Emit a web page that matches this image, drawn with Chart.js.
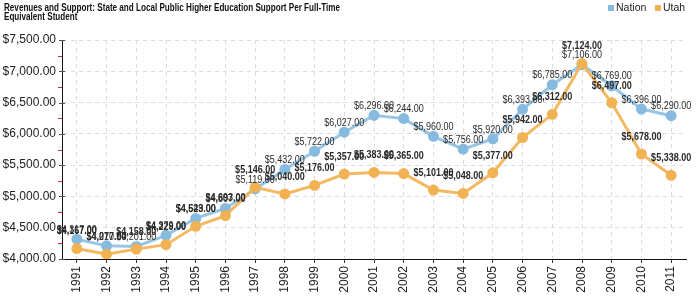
<!DOCTYPE html>
<html>
<head>
<meta charset="utf-8">
<script src="https://cdn.jsdelivr.net/npm/chart.js@4.4.0/dist/chart.umd.min.js"></script>
<style>
html,body{margin:0;padding:0;background:#fff;}
#wrap{width:700px;height:300px;position:relative;}
</style>
</head>
<body>
<div id="wrap"><canvas id="c" width="700" height="300"></canvas></div>
<script>
const titleLines = ["Revenues and Support: State and Local Public Higher Education Support Per Full-Time", "Equivalent Student"];
const years = ["1991","1992","1993","1994","1995","1996","1997","1998","1999","2000","2001","2002","2003","2004","2005","2006","2007","2008","2009","2010","2011"];
const nation = [4317,4210,4201,4379,4649,4807,5119,5432,5722,6027,6296,6244,5960,5756,5920,6393,6785,7106,6769,6396,6290];
const utah = [4167,4077,4158,4229,4523,4693,5146,5040,5176,5357,5383,5365,5101,5048,5377,5942,6312,7124,6497,5678,5338];
const seriesNames = ["Nation","Utah"];
const yMin = 4000, yMax = 7500, yStep = 500;

const fmt = v => "$" + v.toLocaleString("en-US", {minimumFractionDigits:2, maximumFractionDigits:2});

const NATION_LINE = "rgba(140,192,226,0.9)";
const NATION_PT = "#86bbdf";
const UTAH_LINE = "rgba(242,180,88,0.95)";
const UTAH_PT = "#f1b254";

function squishText(ctx, text, x, y, sx) {
  ctx.save();
  ctx.translate(x, y);
  ctx.scale(sx, 1);
  ctx.fillText(text, 0, 0);
  ctx.restore();
}

const decor = {
  id: "decor",
  afterDraw(chart) {
    const ctx = chart.ctx;
    const ys = chart.scales.y, xs = chart.scales.x;
    const ca = chart.chartArea;
    ctx.save();
    // y axis minor red ticks & major ticks
    for (let v = yMin; v <= yMax; v += yStep / 2) {
      const py = Math.round(ys.getPixelForValue(v)) + 0.5;
      ctx.beginPath();
      if ((v - yMin) % yStep === 0) {
        ctx.strokeStyle = "#555";
        ctx.moveTo(ca.left - 3, py); ctx.lineTo(ca.left + 3, py);
      } else {
        ctx.strokeStyle = "#e03030";
        ctx.moveTo(ca.left - 4, py); ctx.lineTo(ca.left, py);
      }
      ctx.lineWidth = 1;
      ctx.stroke();
    }
    // title
    ctx.fillStyle = "#111";
    ctx.font = "bold 11px 'Liberation Sans', Arial, sans-serif";
    ctx.textBaseline = "middle";
    ctx.textAlign = "left";
    const w1 = ctx.measureText(titleLines[0]).width;
    const sx = 336 / w1;
    squishText(ctx, titleLines[0], 4, 8, sx);
    squishText(ctx, titleLines[1], 4, 17, sx);
    // legend
    ctx.font = "10.5px 'Liberation Sans', Arial, sans-serif";
    const items = [[seriesNames[0], NATION_PT, 608], [seriesNames[1], UTAH_PT, 655]];
    items.forEach(([name, col, x]) => {
      ctx.fillStyle = col;
      ctx.fillRect(x, 5, 6, 6);
      ctx.fillStyle = "#222";
      ctx.fillText(name, x + 8, 8.5);
    });
    // data labels
    const drawLabels = (dsIndex, data, bold, off) => {
      const meta = chart.getDatasetMeta(dsIndex);
      ctx.font = (bold ? "bold " : "") + "10px 'Liberation Sans', Arial, sans-serif";
      ctx.fillStyle = "#2a2a2a";
      ctx.textAlign = "center";
      ctx.textBaseline = "middle";
      meta.data.forEach((pt, i) => {
        squishText(ctx, fmt(data[i]), pt.x, pt.y - off, 0.9);
      });
    };
    drawLabels(0, nation, false, 9);
    drawLabels(1, utah, true, 17);
    ctx.restore();
  }
};

new Chart(document.getElementById("c"), {
  type: "line",
  data: {
    labels: years,
    datasets: [
      {label: seriesNames[0], data: nation, borderColor: NATION_LINE, backgroundColor: NATION_PT,
       pointBackgroundColor: NATION_PT, pointBorderColor: NATION_PT, borderWidth: 3, pointRadius: 4, tension: 0, order: 2},
      {label: seriesNames[1], data: utah, borderColor: UTAH_LINE, backgroundColor: UTAH_PT,
       pointBackgroundColor: UTAH_PT, pointBorderColor: UTAH_PT, borderWidth: 3, pointRadius: 4, tension: 0, order: 1}
    ]
  },
  options: {
    responsive: false,
    animation: false,
    events: [],
    layout: {padding: {top: 40, right: 14, left: 0, bottom: 0}},
    plugins: {legend: {display: false}, title: {display: false}, tooltip: {enabled: false}},
    scales: {
      x: {
        type: "category",
        offset: true,
        afterFit: s => { s.height = 41; },
        grid: {offset: false, color: "#dcdcdc", drawTicks: true, tickLength: 4, tickColor: "#333", tickBorderDash: []},
        border: {display: true, color: "#111", width: 1, dash: [4, 4]},
        ticks: {minRotation: 90, maxRotation: 90, autoSkip: false, padding: 3, color: "#222",
                font: {family: "'Liberation Sans', Arial, sans-serif", size: 12}}
      },
      y: {
        type: "linear",
        min: yMin, max: yMax,
        afterFit: s => { s.width = 62; },
        grid: {color: "#dcdcdc", drawTicks: false},
        border: {display: true, color: "#111", width: 1, dash: [4, 4]},
        ticks: {stepSize: yStep, padding: 6, color: "#222", callback: v => fmt(v),
                font: {family: "'Liberation Sans', Arial, sans-serif", size: 12}}
      }
    }
  },
  plugins: [decor]
});
</script>
</body>
</html>
